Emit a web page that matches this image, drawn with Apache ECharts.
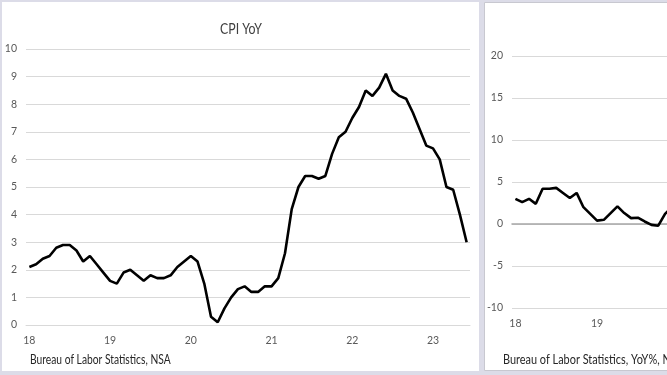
<!DOCTYPE html>
<html>
<head>
<meta charset="utf-8">
<script src="https://cdn.jsdelivr.net/npm/echarts@6/dist/echarts.min.js"></script>
<style>
  html, body { margin: 0; padding: 0; background: #dcdce8; overflow: hidden; }
  #chart { width: 1000px; height: 375px; }
</style>
</head>
<body>
<div id="chart"></div>
<script>
// year labels shown on the x axis (one per January)
const years = ['18', '19', '20', '21', '22', '23'];

// CPI YoY, monthly, Jan 2018 - Jun 2023
const cpiYoY = [
  2.1, 2.2, 2.4, 2.5, 2.8, 2.9, 2.9, 2.7, 2.3, 2.5, 2.2, 1.9,
  1.6, 1.5, 1.9, 2.0, 1.8, 1.6, 1.8, 1.7, 1.7, 1.8, 2.1, 2.3,
  2.5, 2.3, 1.5, 0.3, 0.1, 0.6, 1.0, 1.3, 1.4, 1.2, 1.2, 1.4,
  1.4, 1.7, 2.6, 4.2, 5.0, 5.4, 5.4, 5.3, 5.4, 6.2, 6.8, 7.0,
  7.5, 7.9, 8.5, 8.3, 8.6, 9.1, 8.5, 8.3, 8.2, 7.7, 7.1, 6.5,
  6.4, 6.0, 5.0, 4.9, 4.0, 3.0
];

// second panel (cut off at the right edge), YoY %, from Jan 2018
const rightYoY = [
  3.0, 2.6, 3.0, 2.4, 4.2, 4.2, 4.3, 3.7, 3.1, 3.7, 2.0, 1.2,
  0.4, 0.5, 1.3, 2.1, 1.3, 0.7, 0.75, 0.3, -0.1, -0.2, 1.2, 2.0
];

const leftTicks = [0, 1, 2, 3, 4, 5, 6, 7, 8, 9, 10];
const rightTicks = [-10, -5, 0, 5, 10, 15, 20];

// one category per month, label only on January
const months = [];
years.forEach(function (y) {
  for (let m = 0; m < 12; m++) months.push(m === 0 ? y : '');
});
const cats = months.slice(0, cpiYoY.length);

const font = "Lato, 'Noto Sans', sans-serif";
const labelColor = '#595959';
const gridColor = '#d9d9d9';

const chart = echarts.init(document.getElementById('chart'));

chart.setOption({
  animation: false,
  backgroundColor: '#dcdce8',
  textStyle: { fontFamily: font },
  graphic: [
    { type: 'rect', z: -10, shape: { x: 2, y: 2, width: 477, height: 369 }, style: { fill: '#ffffff' } },
    { type: 'rect', z: -10, shape: { x: 484.5, y: 2.5, width: 500, height: 368 }, style: { fill: '#ffffff', stroke: '#c8c8d0', lineWidth: 1 } },
    { type: 'text', x: 241, y: 29, scaleX: 0.82, style: { text: 'CPI YoY', textAlign: 'center', textVerticalAlign: 'middle', font: '15px ' + font, fill: '#404040' } },
    { type: 'text', x: 30, y: 360, scaleX: 0.79, style: { text: 'Bureau of Labor Statistics, NSA', textVerticalAlign: 'middle', font: '13px ' + font, fill: '#262626' } },
    { type: 'text', x: 503, y: 360, scaleX: 0.84, style: { text: 'Bureau of Labor Statistics, YoY%, NSA', textVerticalAlign: 'middle', font: '13px ' + font, fill: '#262626' } }
  ],
  grid: [
    { left: 26, top: 49, width: 444, height: 276 },
    { left: 512, top: 56, width: 449, height: 252 }
  ],
  xAxis: [
    {
      type: 'category', gridIndex: 0, data: cats, boundaryGap: true,
      axisLine: { lineStyle: { color: gridColor } },
      axisTick: { interval: 11, length: 5, lineStyle: { color: gridColor } },
      axisLabel: { interval: 11, color: labelColor, fontSize: 10.5, margin: 10 }
    },
    {
      type: 'category', gridIndex: 1, data: cats, boundaryGap: true,
      axisLine: { onZero: false, show: false },
      axisTick: { show: false },
      axisLabel: { interval: 11, color: labelColor, fontSize: 10.5, margin: 10 }
    },
    {
      type: 'category', gridIndex: 1, data: cats, boundaryGap: true,
      axisLine: { onZero: true, lineStyle: { color: '#a6a6a6', width: 1.5 } },
      axisTick: { interval: 11, length: 4, lineStyle: { color: '#a6a6a6' } },
      axisLabel: { show: false }
    }
  ],
  yAxis: [
    {
      type: 'value', gridIndex: 0,
      min: leftTicks[0], max: leftTicks[leftTicks.length - 1], interval: 1,
      axisLine: { show: false }, axisTick: { show: false },
      axisLabel: { color: labelColor, fontSize: 10.5, margin: 9 },
      splitLine: { lineStyle: { color: gridColor } }
    },
    {
      type: 'value', gridIndex: 1,
      min: rightTicks[0], max: rightTicks[rightTicks.length - 1], interval: 5,
      axisLine: { show: false }, axisTick: { show: false },
      axisLabel: { color: labelColor, fontSize: 10.5, margin: 9 },
      splitLine: { lineStyle: { color: gridColor } }
    }
  ],
  series: [
    {
      type: 'line', xAxisIndex: 0, yAxisIndex: 0, data: cpiYoY,
      showSymbol: false, lineStyle: { color: '#000000', width: 2.6 }
    },
    {
      type: 'line', xAxisIndex: 2, yAxisIndex: 1, data: rightYoY,
      showSymbol: false, lineStyle: { color: '#000000', width: 2.6 }
    }
  ]
});
</script>
</body>
</html>
